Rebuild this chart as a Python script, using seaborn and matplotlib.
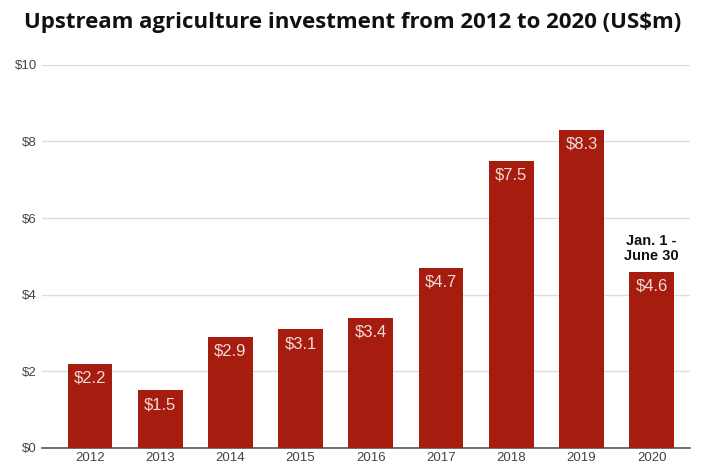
import matplotlib
matplotlib.use("Agg")
import matplotlib.pyplot as plt
import seaborn as sns
import pandas as pd

years = ["2012", "2013", "2014", "2015", "2016", "2017", "2018", "2019", "2020"]
values = [2.2, 1.5, 2.9, 3.1, 3.4, 4.7, 7.5, 8.3, 4.6]
yticks = [0, 2, 4, 6, 8, 10]
ytick_labels = ["$0", "$2", "$4", "$6", "$8", "$10"]
title = "Upstream agriculture investment from 2012 to 2020 (US$m)"
note = "Jan. 1 -\nJune 30"

sns.set_theme(style="white")
plt.rcParams['font.family'] = ['Liberation Sans', 'DejaVu Sans']

df = pd.DataFrame({"year": years, "value": values})

fig = plt.figure(figsize=(7.05, 4.7), dpi=100)
ax = fig.add_axes([0.06, 0.047, 0.919, 0.815])

sns.barplot(data=df, x="year", y="value", color="#a61c0e", saturation=1,
            width=0.64, ax=ax, zorder=3, linewidth=0)

ax.set_ylim(0, 10)
ax.set_xlim(-0.68, 8.55)
ax.set_yticks(yticks)
ax.set_yticklabels(ytick_labels)
ax.yaxis.grid(True, color="#dddddd", linewidth=1, zorder=0)
ax.set_axisbelow(True)
for s in ["top", "right", "left"]:
    ax.spines[s].set_visible(False)
ax.spines["bottom"].set_color("#555555")
ax.spines["bottom"].set_linewidth(1.2)
ax.set_xlabel("")
ax.set_ylabel("")
ax.tick_params(axis="both", length=0, colors="#444444", labelsize=9.5, pad=3)
ax.tick_params(axis="y", pad=4)

for i, v in enumerate(values):
    ax.text(i, v - 0.18, f"${v}", ha="center", va="top", color="#f2dcd8",
            fontsize=12, zorder=5)

ax.text(8, 5.2, note, ha="center", va="center", fontsize=10.5,
        fontweight="bold", color="#111111", linespacing=1.1)

fig.text(0.5, 0.953, title, ha="center", va="center", fontsize=16,
         fontweight="bold", family=["Open Sans", "DejaVu Sans"], color="#111111")

fig.savefig("out.png", dpi=100)
